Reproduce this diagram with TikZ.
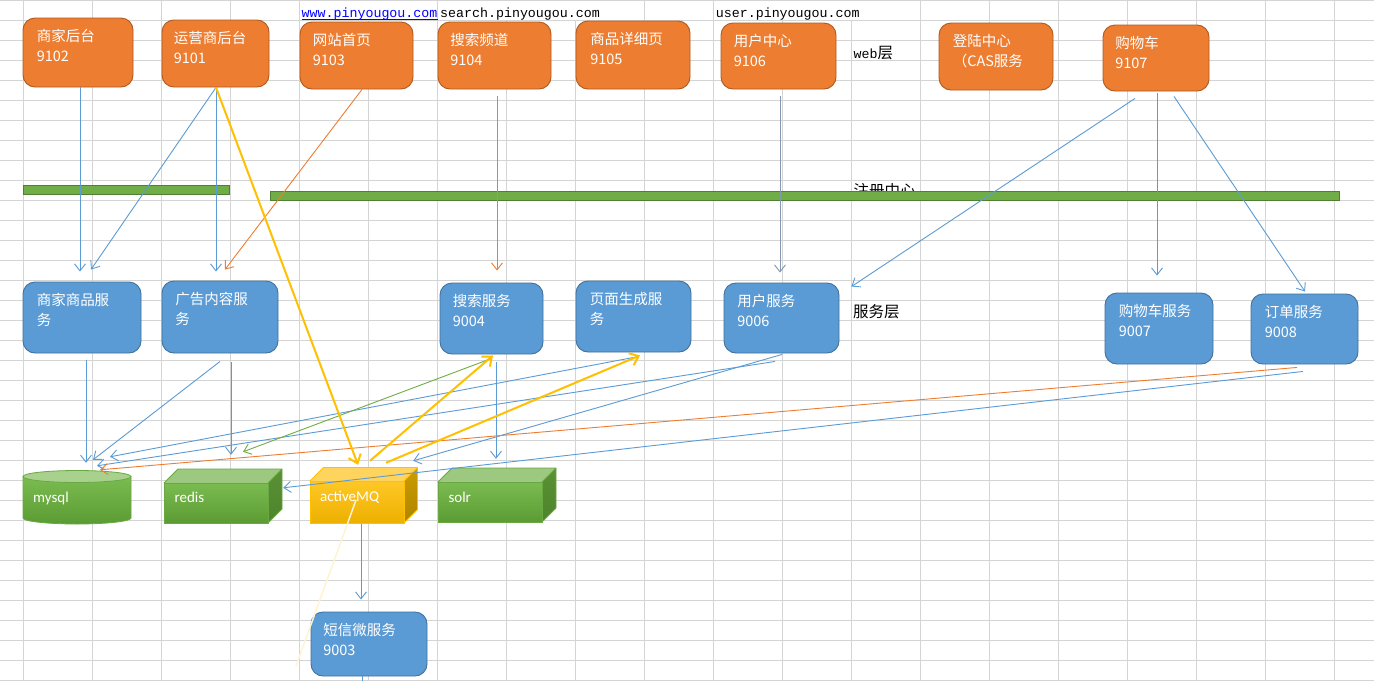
\documentclass[tikz,border=0pt]{standalone}
\usepackage{fontspec}
\newfontfamily\cjk{Noto Sans CJK SC}
\newfontfamily\cali{Carlito}
\newfontfamily\mono{Liberation Mono}
\usetikzlibrary{arrows.meta,calc}
\definecolor{gridc}{HTML}{D4D4D4}
\definecolor{orgF}{HTML}{ED7D31}
\definecolor{orgD}{HTML}{AE5A21}
\definecolor{bluF}{HTML}{5B9BD5}
\definecolor{bluD}{HTML}{41719C}
\definecolor{grnF}{HTML}{70AD47}
\definecolor{grnD}{HTML}{507E32}
\definecolor{yelF}{HTML}{FFC000}
\definecolor{linkc}{HTML}{0000FF}
\definecolor{grayl}{HTML}{8497B0}
\definecolor{gT}{HTML}{7BBC51}
\definecolor{gB}{HTML}{5B9B33}
\definecolor{gTop}{HTML}{9CC97F}
\definecolor{gR}{HTML}{5A9135}
\definecolor{gE}{HTML}{6AA843}
\definecolor{yT}{HTML}{FFC826}
\definecolor{yB}{HTML}{EDB000}
\definecolor{yTop}{HTML}{FFD45E}
\definecolor{yR}{HTML}{CC9C00}
\definecolor{yE}{HTML}{FFC000}
\definecolor{dbTop}{HTML}{A9D18E}
\tikzset{
  obox/.style={draw=orgD, fill=orgF, rounded corners=12pt, line width=0.9pt, inner sep=0pt},
  bbox/.style={draw=bluD, fill=bluF, rounded corners=12pt, line width=0.9pt, inner sep=0pt},
  wtxt/.style={text=white, font=\cjk\fontsize{14.5}{17}\selectfont, inner sep=0pt, anchor=base west},
  ltxt/.style={text=white, font=\cali\fontsize{15}{18}\selectfont, inner sep=0pt, anchor=base west},
  ktxt/.style={text=black, font=\cjk\fontsize{15.5}{18}\selectfont, inner sep=0pt, anchor=base west},
  mtxt/.style={font=\mono\fontsize{13.3}{15}\selectfont, inner sep=0pt, anchor=base west},
  hold/.style={inner sep=0pt, draw=none},
  barbox/.style={draw=grnD, fill=grnF, line width=0.9pt, inner sep=0pt},
  cn/.style={line width=0.9pt, -{Straight Barb[length=7pt,width=11pt]}},
  cb/.style={cn, draw=bluF},
  co/.style={cn, draw=orgF},
  cg/.style={cn, draw=grnF},
  cgr/.style={cn, draw=grayl},
  cy/.style={line width=2pt, draw=yelF, -{Straight Barb[length=8pt,width=13pt]}},
  gfront/.style={top color=gT, bottom color=gB},
  gtop/.style={fill=gTop},
  gright/.style={top color=gR, bottom color=gB!85!black},
  gedge/.style={draw=gE, line width=0.8pt},
  yfront/.style={top color=yT, bottom color=yB},
  ytop/.style={fill=yTop},
  yright/.style={top color=yR, bottom color=yR!85!black},
  yedge/.style={draw=yE, line width=0.8pt},
}
\newcommand\boxtext[4]{%
  \node[wtxt] (#1a) at ([shift={(#2pt,-24.4pt)}]#1.north west) {#3};
  \node[wtxt] (#1b) at ([shift={(#2pt,-43.6pt)}]#1.north west) {#4};}
\newcommand\cubo[6]{%
  \shade[#6front] (#1,#2) rectangle (#3,#4);
  \fill[#6top] (#1,#2) -- ++(#5pt,#5pt) -- ++({#3-#1},0) -- (#3,#2) -- cycle;
  \shade[#6right] (#3,#2) -- ++(#5pt,#5pt) -- ++(0,{#4-#2}) -- (#3,#4) -- cycle;
  \draw[#6edge, line join=round] (#1,#2) rectangle (#3,#4);
  \draw[#6edge, line join=round] (#1,#2) -- ++(#5pt,#5pt) -- ++({#3-#1},0) -- (#3,#2);
  \draw[#6edge, line join=round] ([shift={(#5pt,#5pt)}]#3,#2) -- ++(0,{#4-#2}) -- (#3,#4);}
\begin{document}
\begin{tikzpicture}[x=1pt,y=-1pt]
\useasboundingbox (0,0) rectangle (1374,681);
\fill[white] (0,0) rectangle (1374,681);
% spreadsheet grid
\foreach \i in {0,...,19} \draw[gridc, line width=1pt] ({23.5+69*\i},0) -- ({23.5+69*\i},681);
\foreach \j in {0,...,34} \draw[gridc, line width=1pt] (0,{20*\j+0.5}) -- (1374,{20*\j+0.5});
% overflow text hides cell borders
\fill[white] (300.5,1.2) rectangle (436.5,19.8);
\fill[white] (438.5,1.2) rectangle (643.5,19.8);
\fill[white] (714.5,1.2) rectangle (919.5,19.8);
% urls
\node[mtxt, text=linkc] (u1) at (301.5,17.3) {www.pinyougou.com};
\draw[linkc, line width=0.8pt] ([yshift=-1.6pt]u1.base west) -- ([yshift=-1.6pt]u1.base east);
\node[mtxt, text=black] (u2) at (440,17.3) {search.pinyougou.com};
\node[mtxt, text=black] (u3) at (715.7,17.3) {user.pinyougou.com};
% layer labels
\node[inner sep=0pt, anchor=base west] (weblbl) at (853.5,58) {{\mono\fontsize{13.3}{15}\selectfont web}{\cjk\fontsize{15.5}{18}\selectfont 层}};
\node[ktxt] (svclbl) at (853,317) {服务层};
\node[ktxt] (reglbl) at (853.5,196.5) {注册中心};
% registry bars
\node[barbox, minimum width=206pt, minimum height=9pt] (bar1) at (126,189.5) {};
\node[barbox, minimum width=1069pt, minimum height=9pt] (bar2) at (804.5,195.5) {};
% web layer
\node[obox, minimum width=110pt, minimum height=69pt] (w1) at (78,52.5) {};
\node[obox, minimum width=107pt, minimum height=67pt] (w2) at (215.5,53.5) {};
\node[obox, minimum width=113pt, minimum height=67pt] (w3) at (356.5,55.5) {};
\node[obox, minimum width=113pt, minimum height=67pt] (w4) at (494.5,55.5) {};
\node[obox, minimum width=114pt, minimum height=68pt] (w5) at (633,55) {};
\node[obox, minimum width=115pt, minimum height=66pt] (w6) at (778.5,56) {};
\node[obox, minimum width=114pt, minimum height=67pt] (w7) at (996,56.5) {};
\node[obox, minimum width=106pt, minimum height=66pt] (w8) at (1156,58) {};
\boxtext{w1}{14}{商家后台}{9102}
\boxtext{w2}{12}{运营商后台}{9101}
\boxtext{w3}{13}{网站首页}{9103}
\boxtext{w4}{12.5}{搜索频道}{9104}
\boxtext{w5}{14.5}{商品详细页}{9105}
\boxtext{w6}{13}{用户中心}{9106}
\boxtext{w7}{14}{登陆中心}{（CAS服务}
\boxtext{w8}{12.5}{购物车}{9107}
% service layer
\node[bbox, minimum width=118pt, minimum height=71pt] (s1) at (82,317.5) {};
\node[bbox, minimum width=116pt, minimum height=72pt] (s2) at (220,317) {};
\node[bbox, minimum width=103pt, minimum height=71pt] (s3) at (491.5,318.5) {};
\node[bbox, minimum width=115pt, minimum height=71pt] (s4) at (633.5,316.5) {};
\node[bbox, minimum width=115pt, minimum height=70pt] (s5) at (781.5,318) {};
\node[bbox, minimum width=108pt, minimum height=71pt] (s6) at (1159,328.5) {};
\node[bbox, minimum width=107pt, minimum height=70pt] (s7) at (1304.5,329) {};
\node[bbox, minimum width=116pt, minimum height=64pt] (s8) at (369,644) {};
\boxtext{s1}{14}{商家商品服}{务}
\boxtext{s2}{13.5}{广告内容服}{务}
\boxtext{s3}{13}{搜索服务}{9004}
\boxtext{s4}{14}{页面生成服}{务}
\boxtext{s5}{13.5}{用户服务}{9006}
\boxtext{s6}{14}{购物车服务}{9007}
\boxtext{s7}{14}{订单服务}{9008}
\boxtext{s8}{12.5}{短信微服务}{9003}
% storage: mysql cylinder
\shade[top color=gT, bottom color=gB] (23,476.5) -- (23,518) arc[start angle=180, end angle=360, x radius=54pt, y radius=6pt] -- (131,476.5) -- cycle;
\draw[gE, line width=0.8pt] (23,476.5) -- (23,518) arc[start angle=180, end angle=360, x radius=54pt, y radius=6pt] -- (131,476.5);
\filldraw[fill=dbTop, draw=gE, line width=0.8pt] (77,476.5) ellipse [x radius=54pt, y radius=6pt];
\node[hold, minimum width=108pt, minimum height=54pt] (db) at (77,497) {};
% cuboids
\cubo{164}{483}{268}{523}{14}{g}
\node[hold, minimum width=104pt, minimum height=40pt] (rd) at (216,503) {};
\cubo{310}{481}{404}{523}{13.5}{y}
\node[hold, minimum width=94pt, minimum height=42pt] (mq) at (357,502) {};
\cubo{438}{482}{542}{522}{14}{g}
\node[hold, minimum width=104pt, minimum height=40pt] (sl) at (490,502) {};
\node[ltxt] (dbt) at (33,502.5) {mysql};
\node[ltxt] (rdt) at (174.3,502.5) {redis};
\node[ltxt] (mqt) at (320,501.7) {activeMQ};
\node[ltxt] (slt) at (448.3,502) {solr};
% free ends
\coordinate (fadeend) at (296,666);
\coordinate (stubend) at (362,681);
% faint line
\draw[yelF!18, line width=1.5pt] ([shift={(-1pt,2pt)}]mq.center) -- (fadeend);
% web -> service connectors
\draw[cb] ([xshift=2pt]w1.south) -- ([shift={(-2pt,10pt)}]s1.north);
\draw[cb] ([xshift=0.5pt]w2.south) -- ([shift={(9pt,12pt)}]s1.north);
\draw[cb] ([xshift=0.5pt]w2.south) -- ([shift={(-4pt,9pt)}]s2.north);
\draw[co] ([xshift=5.5pt]w3.south) -- ([shift={(5pt,11pt)}]s2.north);
\draw[co] ([shift={(2.5pt,-7pt)}]w4.south) -- ([shift={(5.5pt,12pt)}]s3.north);
\draw[cgr] ([shift={(1.5pt,-7pt)}]w6.south) -- ([shift={(-1.5pt,10pt)}]s5.north);
\draw[cb] ([shift={(-21pt,-7pt)}]w8.south) -- ([shift={(12pt,-4pt)}]s5.north east);
\draw[cb] ([shift={(1pt,-2pt)}]w8.south) -- ([shift={(-2pt,17pt)}]s6.north);
\draw[cb] ([shift={(18pt,-5pt)}]w8.south) -- ([shift={(0.5pt,2pt)}]s7.north);
% service -> storage connectors
\draw[cb] ([shift={(4pt,-7pt)}]s1.south) -- ([shift={(9pt,7pt)}]db.north);
\draw[cb] ([yshift=-8pt]s2.south) -- ([shift={(16pt,10pt)}]db.north);
\draw[cb] ([shift={(11pt,-9pt)}]s2.south) -- ([shift={(15pt,28pt)}]rd.north);
\draw[cb] ([yshift=-5pt]s4.south) -- ([shift={(33pt,13pt)}]db.north);
\draw[cb] ([shift={(-6.5pt,-8pt)}]s5.south) -- ([shift={(20pt,4pt)}]db.north);
\draw[cb] ([shift={(0.5pt,-1pt)}]s5.south) -- ([shift={(9pt,20pt)}]mq.north east);
\draw[cg] ([yshift=-4pt]s3.south) -- ([shift={(27pt,31pt)}]rd.north);
\draw[cb] ([shift={(4.5pt,-8pt)}]s3.south) -- ([shift={(6pt,23pt)}]sl.north);
\draw[co] ([shift={(-7.5pt,-3pt)}]s7.south) -- ([shift={(23pt,0pt)}]db.north);
\draw[cb] ([shift={(-1.5pt,-7pt)}]s7.south) -- ([shift={(15pt,-5pt)}]rd.north east);
\draw[cb] ([shift={(4pt,-1pt)}]mq.south) -- ([shift={(-8pt,12pt)}]s8.north);
\draw[bluF, line width=0.9pt] ([xshift=-7pt]s8.south) -- (stubend);
% message queue connectors
\draw[cy] ([xshift=0.5pt]w2.south) -- ([shift={(1pt,16pt)}]mq.north);
\draw[cy] ([shift={(13pt,20pt)}]mq.north) -- ([shift={(1.5pt,-1pt)}]s3.south);
\draw[cy] ([shift={(29pt,18pt)}]mq.north) -- ([shift={(6.5pt,-3pt)}]s4.south);
\end{tikzpicture}
\end{document}
